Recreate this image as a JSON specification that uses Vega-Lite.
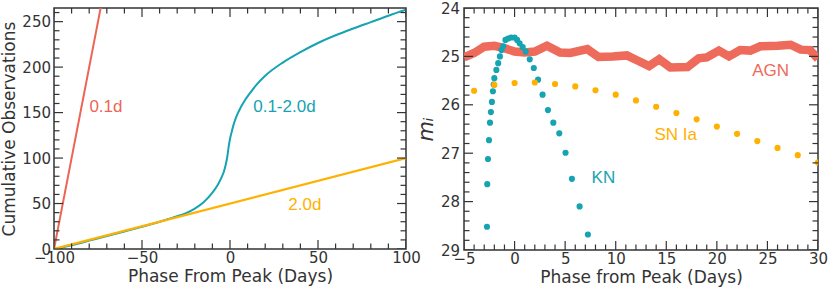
{
  "$schema": "https://vega.github.io/schema/vega-lite/v6.json",
  "autosize": {"type": "pad"},
  "padding": {"left": 0, "top": 0, "right": 5, "bottom": 2},
  "bounds": "flush",
  "spacing": 58,
  "resolve": {"scale": {"color": "independent", "size": "independent"}},
  "config": {
    "view": {"stroke": "#333333", "strokeWidth": 1.5},
    "axis": {"domain": false, "ticks": false, "grid": false, "labelFont": "DejaVu Sans", "labelFontSize": 15, "labelColor": "#333333", "titleFont": "DejaVu Sans", "titleFontSize": 17, "titleFontWeight": "normal", "titleColor": "#333333", "labelFlush": false, "labelOverlap": false},
    "text": {"font": "Liberation Sans", "fontSize": 17}
  },
  "datasets": {
    "left": [
      {"series": "0.1d", "phase": -100, "obs": 0},
      {"series": "0.1d", "phase": -70, "obs": 300},
      {"series": "0.1-2.0d", "phase": -100, "obs": 0},
      {"series": "0.1-2.0d", "phase": -90, "obs": 4.2},
      {"series": "0.1-2.0d", "phase": -80, "obs": 9.2},
      {"series": "0.1-2.0d", "phase": -70, "obs": 14.2},
      {"series": "0.1-2.0d", "phase": -60, "obs": 19.3},
      {"series": "0.1-2.0d", "phase": -50, "obs": 24.5},
      {"series": "0.1-2.0d", "phase": -40, "obs": 30},
      {"series": "0.1-2.0d", "phase": -35, "obs": 33},
      {"series": "0.1-2.0d", "phase": -30, "obs": 36},
      {"series": "0.1-2.0d", "phase": -25, "obs": 39.5},
      {"series": "0.1-2.0d", "phase": -20, "obs": 44.5},
      {"series": "0.1-2.0d", "phase": -15, "obs": 51.5},
      {"series": "0.1-2.0d", "phase": -10, "obs": 62},
      {"series": "0.1-2.0d", "phase": -7, "obs": 70.5},
      {"series": "0.1-2.0d", "phase": -5, "obs": 78},
      {"series": "0.1-2.0d", "phase": -3.5, "obs": 85},
      {"series": "0.1-2.0d", "phase": -2.5, "obs": 92},
      {"series": "0.1-2.0d", "phase": -1.5, "obs": 102},
      {"series": "0.1-2.0d", "phase": -0.8, "obs": 112},
      {"series": "0.1-2.0d", "phase": 0, "obs": 121},
      {"series": "0.1-2.0d", "phase": 1, "obs": 129},
      {"series": "0.1-2.0d", "phase": 2, "obs": 136.5},
      {"series": "0.1-2.0d", "phase": 3.5, "obs": 145},
      {"series": "0.1-2.0d", "phase": 5, "obs": 151.5},
      {"series": "0.1-2.0d", "phase": 8.3, "obs": 163},
      {"series": "0.1-2.0d", "phase": 11, "obs": 170.5},
      {"series": "0.1-2.0d", "phase": 15, "obs": 180.5},
      {"series": "0.1-2.0d", "phase": 20, "obs": 190.5},
      {"series": "0.1-2.0d", "phase": 30, "obs": 205},
      {"series": "0.1-2.0d", "phase": 40, "obs": 216.5},
      {"series": "0.1-2.0d", "phase": 50, "obs": 226.5},
      {"series": "0.1-2.0d", "phase": 60, "obs": 235},
      {"series": "0.1-2.0d", "phase": 70, "obs": 242.5},
      {"series": "0.1-2.0d", "phase": 80, "obs": 249.5},
      {"series": "0.1-2.0d", "phase": 90, "obs": 256.5},
      {"series": "0.1-2.0d", "phase": 100, "obs": 263},
      {"series": "2.0d", "phase": -100, "obs": 0},
      {"series": "2.0d", "phase": 100, "obs": 100}
    ],
    "leftLabels": [
      {"series": "0.1d", "phase": -79.9, "obs": 156.5, "label": "0.1d"},
      {"series": "0.1-2.0d", "phase": 13.2, "obs": 156.5, "label": "0.1-2.0d"},
      {"series": "2.0d", "phase": 33.1, "obs": 48.7, "label": "2.0d"}
    ],
    "leftTicks": [
      {"axis": "x", "kind": "major", "pos": -100}, {"axis": "x", "kind": "major", "pos": -50}, {"axis": "x", "kind": "major", "pos": 0}, {"axis": "x", "kind": "major", "pos": 50}, {"axis": "x", "kind": "major", "pos": 100},
      {"axis": "x", "kind": "minor", "pos": -90}, {"axis": "x", "kind": "minor", "pos": -80}, {"axis": "x", "kind": "minor", "pos": -70}, {"axis": "x", "kind": "minor", "pos": -60},
      {"axis": "x", "kind": "minor", "pos": -40}, {"axis": "x", "kind": "minor", "pos": -30}, {"axis": "x", "kind": "minor", "pos": -20}, {"axis": "x", "kind": "minor", "pos": -10},
      {"axis": "x", "kind": "minor", "pos": 10}, {"axis": "x", "kind": "minor", "pos": 20}, {"axis": "x", "kind": "minor", "pos": 30}, {"axis": "x", "kind": "minor", "pos": 40},
      {"axis": "x", "kind": "minor", "pos": 60}, {"axis": "x", "kind": "minor", "pos": 70}, {"axis": "x", "kind": "minor", "pos": 80}, {"axis": "x", "kind": "minor", "pos": 90},
      {"axis": "y", "kind": "major", "pos": 0}, {"axis": "y", "kind": "major", "pos": 50}, {"axis": "y", "kind": "major", "pos": 100}, {"axis": "y", "kind": "major", "pos": 150}, {"axis": "y", "kind": "major", "pos": 200}, {"axis": "y", "kind": "major", "pos": 250},
      {"axis": "y", "kind": "minor", "pos": 10}, {"axis": "y", "kind": "minor", "pos": 20}, {"axis": "y", "kind": "minor", "pos": 30}, {"axis": "y", "kind": "minor", "pos": 40},
      {"axis": "y", "kind": "minor", "pos": 60}, {"axis": "y", "kind": "minor", "pos": 70}, {"axis": "y", "kind": "minor", "pos": 80}, {"axis": "y", "kind": "minor", "pos": 90},
      {"axis": "y", "kind": "minor", "pos": 110}, {"axis": "y", "kind": "minor", "pos": 120}, {"axis": "y", "kind": "minor", "pos": 130}, {"axis": "y", "kind": "minor", "pos": 140},
      {"axis": "y", "kind": "minor", "pos": 160}, {"axis": "y", "kind": "minor", "pos": 170}, {"axis": "y", "kind": "minor", "pos": 180}, {"axis": "y", "kind": "minor", "pos": 190},
      {"axis": "y", "kind": "minor", "pos": 210}, {"axis": "y", "kind": "minor", "pos": 220}, {"axis": "y", "kind": "minor", "pos": 230}, {"axis": "y", "kind": "minor", "pos": 240},
      {"axis": "y", "kind": "minor", "pos": 260}
    ],
    "rightTicks": [
      {"axis": "x", "kind": "major", "pos": -5}, {"axis": "x", "kind": "major", "pos": 0}, {"axis": "x", "kind": "major", "pos": 5}, {"axis": "x", "kind": "major", "pos": 10},
      {"axis": "x", "kind": "major", "pos": 15}, {"axis": "x", "kind": "major", "pos": 20}, {"axis": "x", "kind": "major", "pos": 25}, {"axis": "x", "kind": "major", "pos": 30},
      {"axis": "x", "kind": "minor", "pos": -4}, {"axis": "x", "kind": "minor", "pos": -3}, {"axis": "x", "kind": "minor", "pos": -2}, {"axis": "x", "kind": "minor", "pos": -1},
      {"axis": "x", "kind": "minor", "pos": 1}, {"axis": "x", "kind": "minor", "pos": 2}, {"axis": "x", "kind": "minor", "pos": 3}, {"axis": "x", "kind": "minor", "pos": 4},
      {"axis": "x", "kind": "minor", "pos": 6}, {"axis": "x", "kind": "minor", "pos": 7}, {"axis": "x", "kind": "minor", "pos": 8}, {"axis": "x", "kind": "minor", "pos": 9},
      {"axis": "x", "kind": "minor", "pos": 11}, {"axis": "x", "kind": "minor", "pos": 12}, {"axis": "x", "kind": "minor", "pos": 13}, {"axis": "x", "kind": "minor", "pos": 14},
      {"axis": "x", "kind": "minor", "pos": 16}, {"axis": "x", "kind": "minor", "pos": 17}, {"axis": "x", "kind": "minor", "pos": 18}, {"axis": "x", "kind": "minor", "pos": 19},
      {"axis": "x", "kind": "minor", "pos": 21}, {"axis": "x", "kind": "minor", "pos": 22}, {"axis": "x", "kind": "minor", "pos": 23}, {"axis": "x", "kind": "minor", "pos": 24},
      {"axis": "x", "kind": "minor", "pos": 26}, {"axis": "x", "kind": "minor", "pos": 27}, {"axis": "x", "kind": "minor", "pos": 28}, {"axis": "x", "kind": "minor", "pos": 29},
      {"axis": "y", "kind": "major", "pos": 24}, {"axis": "y", "kind": "major", "pos": 25}, {"axis": "y", "kind": "major", "pos": 26}, {"axis": "y", "kind": "major", "pos": 27}, {"axis": "y", "kind": "major", "pos": 28}, {"axis": "y", "kind": "major", "pos": 29},
      {"axis": "y", "kind": "minor", "pos": 24.2}, {"axis": "y", "kind": "minor", "pos": 24.4}, {"axis": "y", "kind": "minor", "pos": 24.6}, {"axis": "y", "kind": "minor", "pos": 24.8},
      {"axis": "y", "kind": "minor", "pos": 25.2}, {"axis": "y", "kind": "minor", "pos": 25.4}, {"axis": "y", "kind": "minor", "pos": 25.6}, {"axis": "y", "kind": "minor", "pos": 25.8},
      {"axis": "y", "kind": "minor", "pos": 26.2}, {"axis": "y", "kind": "minor", "pos": 26.4}, {"axis": "y", "kind": "minor", "pos": 26.6}, {"axis": "y", "kind": "minor", "pos": 26.8},
      {"axis": "y", "kind": "minor", "pos": 27.2}, {"axis": "y", "kind": "minor", "pos": 27.4}, {"axis": "y", "kind": "minor", "pos": 27.6}, {"axis": "y", "kind": "minor", "pos": 27.8},
      {"axis": "y", "kind": "minor", "pos": 28.2}, {"axis": "y", "kind": "minor", "pos": 28.4}, {"axis": "y", "kind": "minor", "pos": 28.6}, {"axis": "y", "kind": "minor", "pos": 28.8}
    ],
    "right": [
      {"series": "AGN", "phase": -5, "mag": 25.02},
      {"series": "AGN", "phase": -4, "mag": 24.93},
      {"series": "AGN", "phase": -3, "mag": 24.8},
      {"series": "AGN", "phase": -2, "mag": 24.78},
      {"series": "AGN", "phase": -1, "mag": 24.83},
      {"series": "AGN", "phase": 0, "mag": 24.9},
      {"series": "AGN", "phase": 1, "mag": 24.92},
      {"series": "AGN", "phase": 2, "mag": 24.9},
      {"series": "AGN", "phase": 3.2, "mag": 24.78},
      {"series": "AGN", "phase": 4.5, "mag": 24.92},
      {"series": "AGN", "phase": 5.5, "mag": 24.93},
      {"series": "AGN", "phase": 7.2, "mag": 24.85},
      {"series": "AGN", "phase": 8.3, "mag": 25.01},
      {"series": "AGN", "phase": 9.7, "mag": 25.0},
      {"series": "AGN", "phase": 11.1, "mag": 24.98},
      {"series": "AGN", "phase": 12.1, "mag": 25.08},
      {"series": "AGN", "phase": 13.3, "mag": 25.2},
      {"series": "AGN", "phase": 14.3, "mag": 25.06},
      {"series": "AGN", "phase": 15.4, "mag": 25.23},
      {"series": "AGN", "phase": 17.1, "mag": 25.22},
      {"series": "AGN", "phase": 18.2, "mag": 25.04},
      {"series": "AGN", "phase": 19.0, "mag": 25.02},
      {"series": "AGN", "phase": 20.2, "mag": 24.88},
      {"series": "AGN", "phase": 21.2, "mag": 25.0},
      {"series": "AGN", "phase": 22.3, "mag": 24.87},
      {"series": "AGN", "phase": 23.3, "mag": 24.88},
      {"series": "AGN", "phase": 24.3, "mag": 24.79},
      {"series": "AGN", "phase": 26.0, "mag": 24.78},
      {"series": "AGN", "phase": 27.3, "mag": 24.76},
      {"series": "AGN", "phase": 28.3, "mag": 24.86},
      {"series": "AGN", "phase": 29.2, "mag": 24.87},
      {"series": "AGN", "phase": 30, "mag": 25.05},
      {"series": "KN", "phase": -2.73, "mag": 28.52},
      {"series": "KN", "phase": -2.7, "mag": 27.64},
      {"series": "KN", "phase": -2.63, "mag": 27.12},
      {"series": "KN", "phase": -2.53, "mag": 26.73},
      {"series": "KN", "phase": -2.43, "mag": 26.37},
      {"series": "KN", "phase": -2.34, "mag": 26.15},
      {"series": "KN", "phase": -2.24, "mag": 25.94},
      {"series": "KN", "phase": -2.14, "mag": 25.72},
      {"series": "KN", "phase": -2.07, "mag": 25.58},
      {"series": "KN", "phase": -2.0, "mag": 25.45},
      {"series": "KN", "phase": -1.8, "mag": 25.28},
      {"series": "KN", "phase": -1.62, "mag": 25.14},
      {"series": "KN", "phase": -1.45, "mag": 25.0},
      {"series": "KN", "phase": -1.29, "mag": 24.87},
      {"series": "KN", "phase": -1.12, "mag": 24.79},
      {"series": "KN", "phase": -0.9, "mag": 24.66},
      {"series": "KN", "phase": -0.64, "mag": 24.63},
      {"series": "KN", "phase": -0.34, "mag": 24.61},
      {"series": "KN", "phase": 0, "mag": 24.61},
      {"series": "KN", "phase": 0.25, "mag": 24.66},
      {"series": "KN", "phase": 0.5, "mag": 24.73},
      {"series": "KN", "phase": 0.8, "mag": 24.81},
      {"series": "KN", "phase": 1.1, "mag": 24.9},
      {"series": "KN", "phase": 1.5, "mag": 25.06},
      {"series": "KN", "phase": 1.9, "mag": 25.24},
      {"series": "KN", "phase": 2.32, "mag": 25.48},
      {"series": "KN", "phase": 2.77, "mag": 25.79},
      {"series": "KN", "phase": 3.3, "mag": 26.11},
      {"series": "KN", "phase": 3.83, "mag": 26.37},
      {"series": "KN", "phase": 4.42, "mag": 26.59},
      {"series": "KN", "phase": 5.04, "mag": 26.99},
      {"series": "KN", "phase": 5.67, "mag": 27.53},
      {"series": "KN", "phase": 6.43, "mag": 28.1},
      {"series": "KN", "phase": 7.25, "mag": 28.68},
      {"series": "SN Ia", "phase": -4, "mag": 25.71},
      {"series": "SN Ia", "phase": -2, "mag": 25.59},
      {"series": "SN Ia", "phase": 0, "mag": 25.55},
      {"series": "SN Ia", "phase": 2, "mag": 25.54},
      {"series": "SN Ia", "phase": 4, "mag": 25.57},
      {"series": "SN Ia", "phase": 6, "mag": 25.62},
      {"series": "SN Ia", "phase": 8, "mag": 25.7},
      {"series": "SN Ia", "phase": 10, "mag": 25.79},
      {"series": "SN Ia", "phase": 12, "mag": 25.91},
      {"series": "SN Ia", "phase": 14, "mag": 26.04},
      {"series": "SN Ia", "phase": 16, "mag": 26.17},
      {"series": "SN Ia", "phase": 18, "mag": 26.3},
      {"series": "SN Ia", "phase": 20, "mag": 26.45},
      {"series": "SN Ia", "phase": 22, "mag": 26.6},
      {"series": "SN Ia", "phase": 24, "mag": 26.75},
      {"series": "SN Ia", "phase": 26, "mag": 26.89},
      {"series": "SN Ia", "phase": 28, "mag": 27.04},
      {"series": "SN Ia", "phase": 30, "mag": 27.19}
    ],
    "rightLabels": [
      {"series": "AGN", "phase": 23.5, "mag": 25.3, "label": "AGN"},
      {"series": "SN Ia", "phase": 13.83, "mag": 26.62, "label": "SN Ia"},
      {"series": "KN", "phase": 7.61, "mag": 27.51, "label": "KN"}
    ]
  },
  "hconcat": [
    {
      "width": 352,
      "height": 241,
      "layer": [
        {
          "data": {"name": "left"},
          "transform": [{"filter": "datum.series === '0.1d'"}],
          "mark": {"type": "line", "color": "#EE6556", "strokeWidth": 2, "clip": true},
          "encoding": {
            "x": {"field": "phase", "type": "quantitative", "scale": {"domain": [-100, 100], "nice": false, "zero": false},
                  "axis": {"orient": "bottom", "values": [-100, -50, 0, 50, 100], "labelPadding": 1, "title": "Phase From Peak (Days)", "titlePadding": 3}},
            "y": {"field": "obs", "type": "quantitative", "scale": {"domain": [0, 265], "nice": false, "zero": false},
                  "axis": {"orient": "left", "values": [0, 50, 100, 150, 200, 250], "labelPadding": 3.5, "title": "Cumulative Observations", "titlePadding": 3}}
          }
        },
        {
          "data": {"name": "left"},
          "transform": [{"filter": "datum.series === '0.1-2.0d'"}],
          "mark": {"type": "line", "color": "#16A3B2", "strokeWidth": 2, "interpolate": "monotone", "clip": true},
          "encoding": {
            "x": {"field": "phase", "type": "quantitative"},
            "y": {"field": "obs", "type": "quantitative"}
          }
        },
        {
          "data": {"name": "left"},
          "transform": [{"filter": "datum.series === '2.0d'"}],
          "mark": {"type": "line", "color": "#FFB100", "strokeWidth": 2.2, "clip": true},
          "encoding": {
            "x": {"field": "phase", "type": "quantitative"},
            "y": {"field": "obs", "type": "quantitative"}
          }
        },
        {
          "data": {"name": "leftLabels"},
          "mark": {"type": "text", "align": "left", "baseline": "middle"},
          "encoding": {
            "x": {"field": "phase", "type": "quantitative"},
            "y": {"field": "obs", "type": "quantitative"},
            "text": {"field": "label"},
            "color": {"field": "series", "type": "nominal", "scale": {"domain": ["0.1d", "0.1-2.0d", "2.0d"], "range": ["#EE6556", "#16A3B2", "#FFB100"]}, "legend": null}
          }
        },
        {
          "data": {"name": "leftTicks"},
          "transform": [{"filter": "datum.axis === 'x'"}],
          "mark": {"type": "tick", "orient": "vertical", "thickness": 1.2, "color": "#333333", "opacity": 1, "clip": true},
          "encoding": {
            "x": {"field": "pos", "type": "quantitative"},
            "y": {"datum": 0, "type": "quantitative"},
            "size": {"field": "kind", "type": "nominal", "scale": {"domain": ["major", "minor"], "range": [18, 11]}, "legend": null}
          }
        },
        {
          "data": {"name": "leftTicks"},
          "transform": [{"filter": "datum.axis === 'x'"}],
          "mark": {"type": "tick", "orient": "vertical", "thickness": 1.2, "color": "#333333", "opacity": 1, "clip": true},
          "encoding": {
            "x": {"field": "pos", "type": "quantitative"},
            "y": {"datum": 265, "type": "quantitative"},
            "size": {"field": "kind", "type": "nominal", "scale": {"domain": ["major", "minor"], "range": [18, 11]}, "legend": null}
          }
        },
        {
          "data": {"name": "leftTicks"},
          "transform": [{"filter": "datum.axis === 'y'"}],
          "mark": {"type": "tick", "orient": "horizontal", "thickness": 1.2, "color": "#333333", "opacity": 1, "clip": true},
          "encoding": {
            "y": {"field": "pos", "type": "quantitative"},
            "x": {"datum": -100, "type": "quantitative"},
            "size": {"field": "kind", "type": "nominal", "scale": {"domain": ["major", "minor"], "range": [18, 11]}, "legend": null}
          }
        },
        {
          "data": {"name": "leftTicks"},
          "transform": [{"filter": "datum.axis === 'y'"}],
          "mark": {"type": "tick", "orient": "horizontal", "thickness": 1.2, "color": "#333333", "opacity": 1, "clip": true},
          "encoding": {
            "y": {"field": "pos", "type": "quantitative"},
            "x": {"datum": 100, "type": "quantitative"},
            "size": {"field": "kind", "type": "nominal", "scale": {"domain": ["major", "minor"], "range": [18, 11]}, "legend": null}
          }
        }
      ]
    },
    {
      "width": 354,
      "height": 242,
      "layer": [
        {
          "data": {"name": "right"},
          "transform": [{"filter": "datum.series === 'AGN'"}],
          "mark": {"type": "line", "color": "#EE6A5B", "strokeWidth": 8.5, "clip": true},
          "encoding": {
            "x": {"field": "phase", "type": "quantitative", "scale": {"domain": [-5, 30], "nice": false, "zero": false},
                  "axis": {"orient": "bottom", "values": [-5, 0, 5, 10, 15, 20, 25, 30], "labelPadding": 1, "title": "Phase from Peak (Days)", "titlePadding": 3}},
            "y": {"field": "mag", "type": "quantitative", "scale": {"domain": [24, 29], "reverse": true, "nice": false, "zero": false},
                  "axis": {"orient": "left", "values": [24, 25, 26, 27, 28, 29], "labelPadding": 4.5, "title": "mᵢ", "titleFontStyle": "italic", "titleFontSize": 21, "titlePadding": 4}}
          }
        },
        {
          "data": {"name": "right"},
          "transform": [{"filter": "datum.series === 'KN'"}],
          "mark": {"type": "circle", "color": "#16A3B2", "size": 38, "opacity": 1, "clip": true},
          "encoding": {
            "x": {"field": "phase", "type": "quantitative"},
            "y": {"field": "mag", "type": "quantitative"}
          }
        },
        {
          "data": {"name": "right"},
          "transform": [{"filter": "datum.series === 'SN Ia'"}],
          "mark": {"type": "circle", "color": "#FFB100", "size": 38, "opacity": 1, "clip": true},
          "encoding": {
            "x": {"field": "phase", "type": "quantitative"},
            "y": {"field": "mag", "type": "quantitative"}
          }
        },
        {
          "data": {"name": "rightLabels"},
          "mark": {"type": "text", "align": "left", "baseline": "middle"},
          "encoding": {
            "x": {"field": "phase", "type": "quantitative"},
            "y": {"field": "mag", "type": "quantitative"},
            "text": {"field": "label"},
            "color": {"field": "series", "type": "nominal", "scale": {"domain": ["AGN", "SN Ia", "KN"], "range": ["#EE6A5B", "#FFB100", "#16A3B2"]}, "legend": null}
          }
        },
        {
          "data": {"name": "rightTicks"},
          "transform": [{"filter": "datum.axis === 'x'"}],
          "mark": {"type": "tick", "orient": "vertical", "thickness": 1.2, "color": "#333333", "opacity": 1, "clip": true},
          "encoding": {
            "x": {"field": "pos", "type": "quantitative"},
            "y": {"datum": 29, "type": "quantitative"},
            "size": {"field": "kind", "type": "nominal", "scale": {"domain": ["major", "minor"], "range": [18, 11]}, "legend": null}
          }
        },
        {
          "data": {"name": "rightTicks"},
          "transform": [{"filter": "datum.axis === 'x'"}],
          "mark": {"type": "tick", "orient": "vertical", "thickness": 1.2, "color": "#333333", "opacity": 1, "clip": true},
          "encoding": {
            "x": {"field": "pos", "type": "quantitative"},
            "y": {"datum": 24, "type": "quantitative"},
            "size": {"field": "kind", "type": "nominal", "scale": {"domain": ["major", "minor"], "range": [18, 11]}, "legend": null}
          }
        },
        {
          "data": {"name": "rightTicks"},
          "transform": [{"filter": "datum.axis === 'y'"}],
          "mark": {"type": "tick", "orient": "horizontal", "thickness": 1.2, "color": "#333333", "opacity": 1, "clip": true},
          "encoding": {
            "y": {"field": "pos", "type": "quantitative"},
            "x": {"datum": -5, "type": "quantitative"},
            "size": {"field": "kind", "type": "nominal", "scale": {"domain": ["major", "minor"], "range": [18, 11]}, "legend": null}
          }
        },
        {
          "data": {"name": "rightTicks"},
          "transform": [{"filter": "datum.axis === 'y'"}],
          "mark": {"type": "tick", "orient": "horizontal", "thickness": 1.2, "color": "#333333", "opacity": 1, "clip": true},
          "encoding": {
            "y": {"field": "pos", "type": "quantitative"},
            "x": {"datum": 30, "type": "quantitative"},
            "size": {"field": "kind", "type": "nominal", "scale": {"domain": ["major", "minor"], "range": [18, 11]}, "legend": null}
          }
        }
      ]
    }
  ]
}
